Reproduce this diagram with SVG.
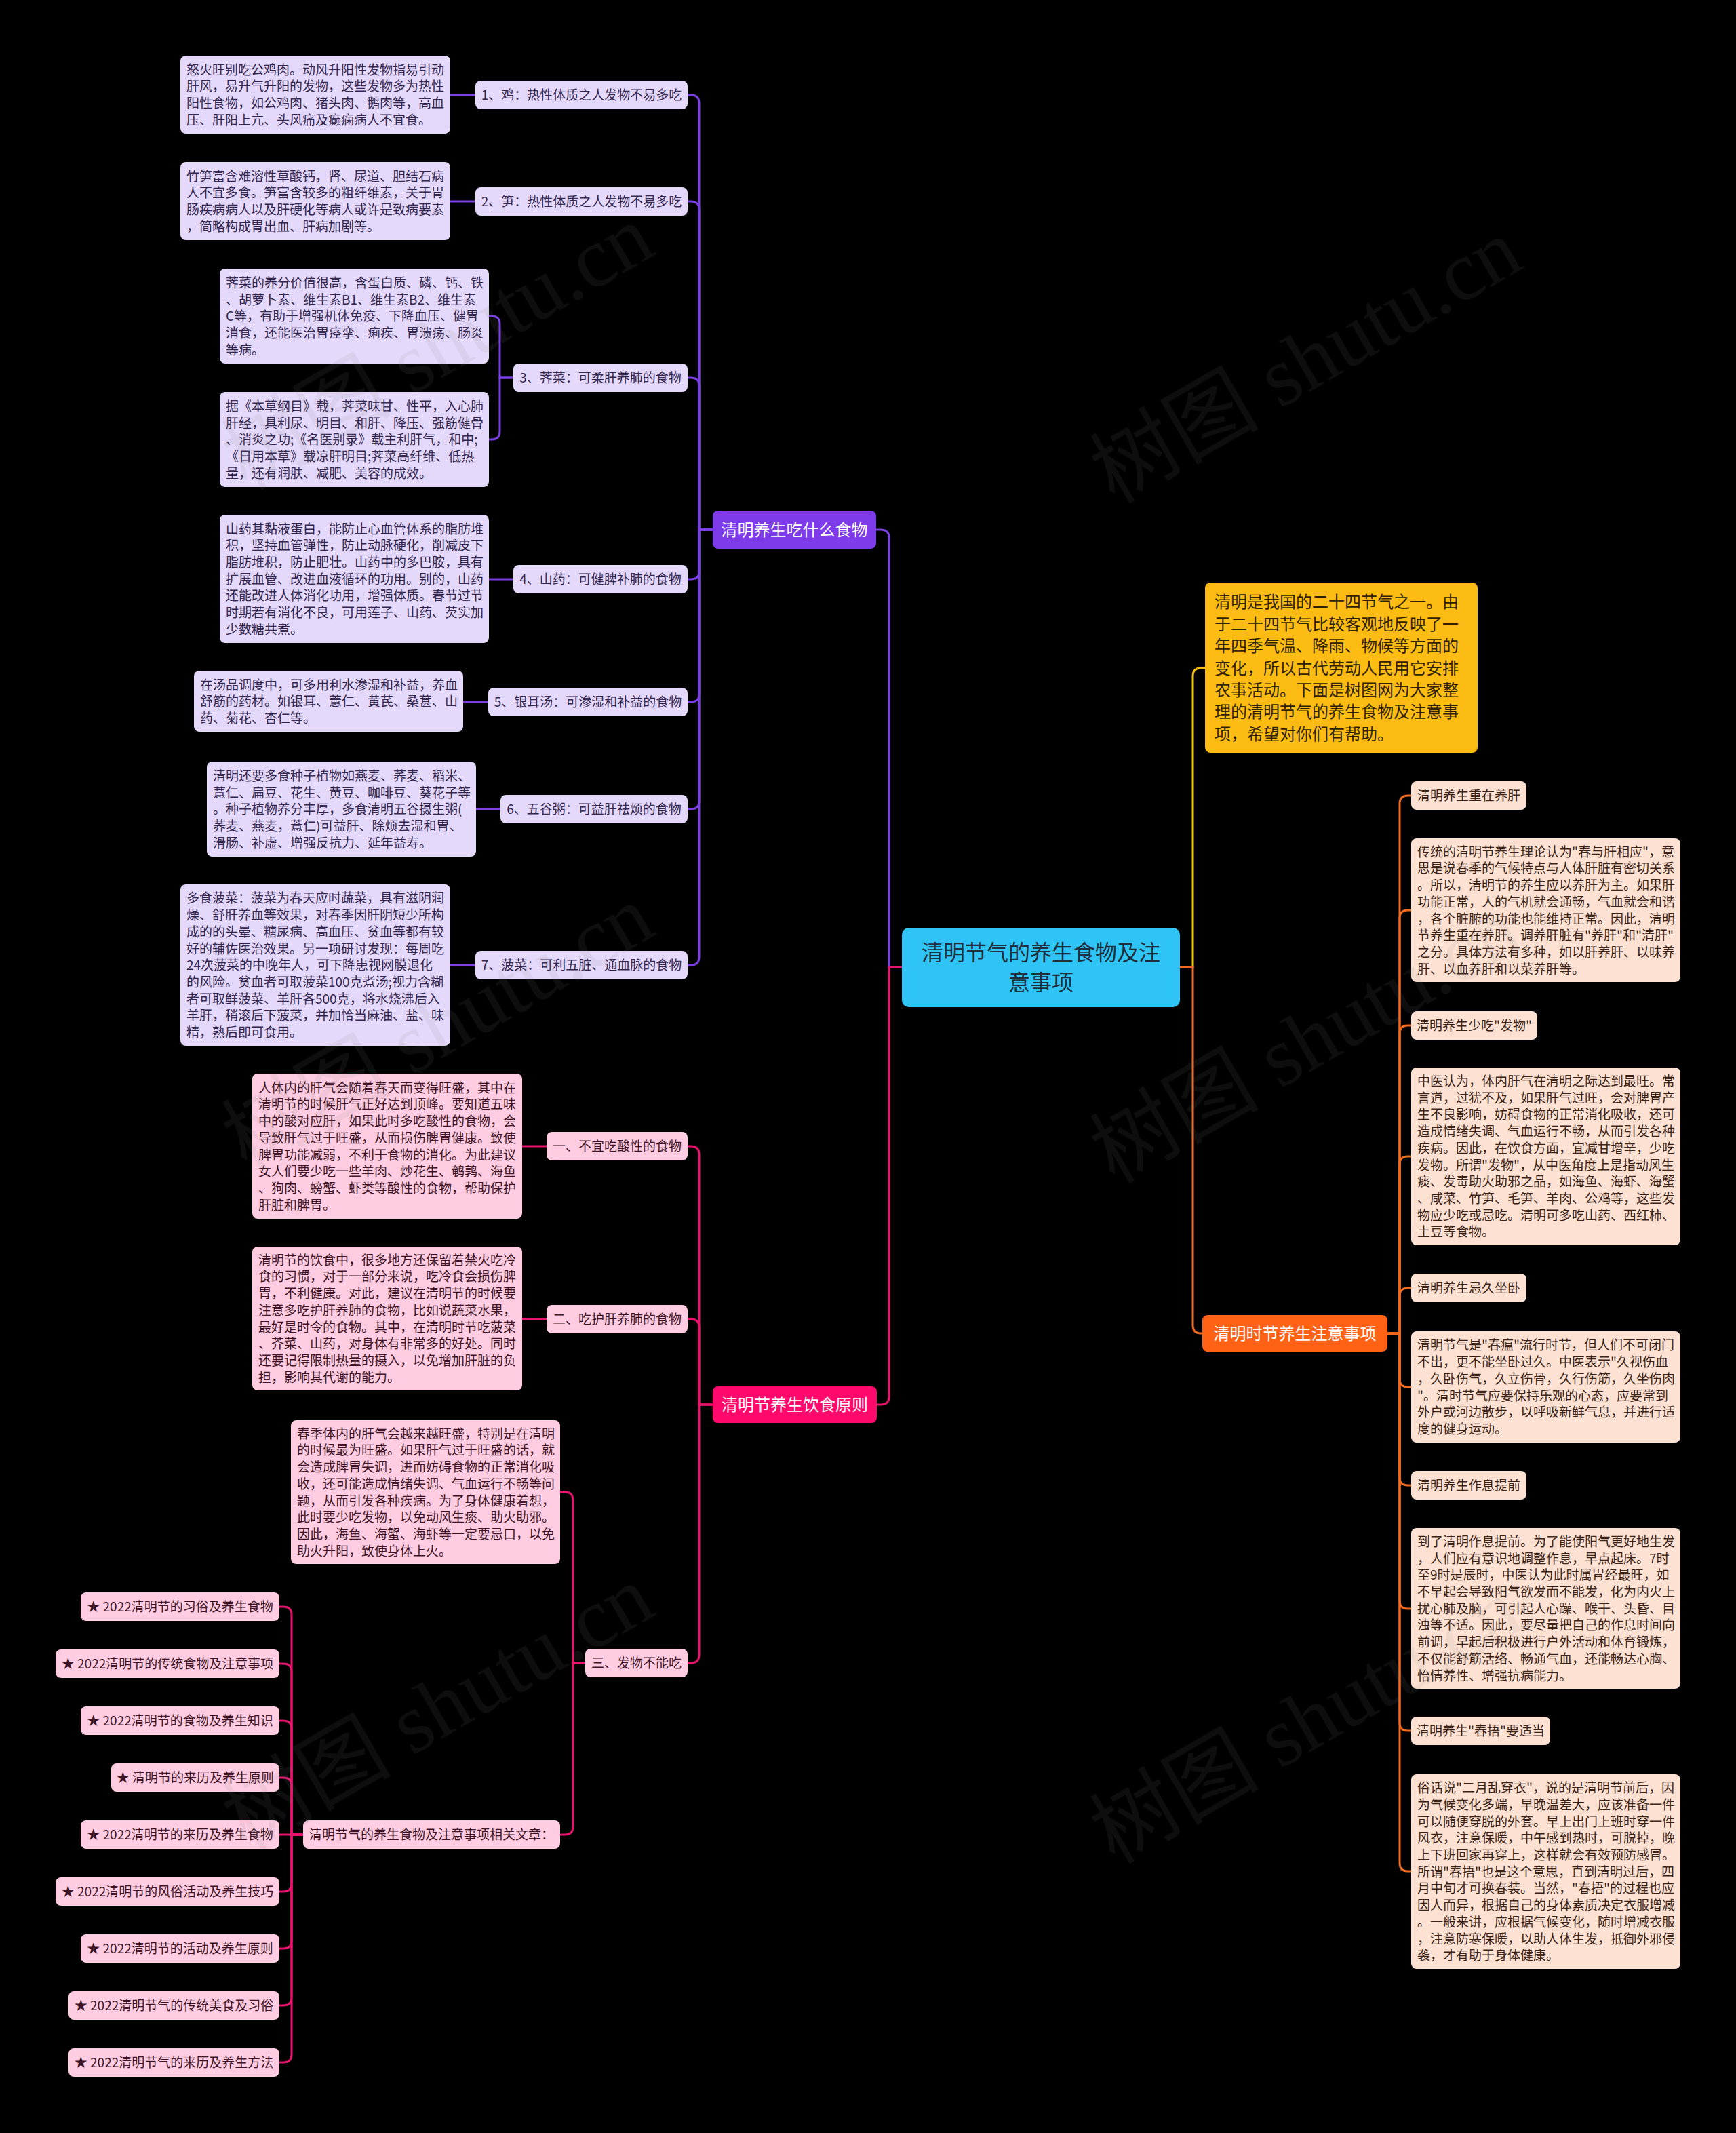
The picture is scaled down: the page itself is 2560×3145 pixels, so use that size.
<svg xmlns="http://www.w3.org/2000/svg" width="2560" height="3145" viewBox="0 0 2560 3145">
<style>
.bg{fill:#000}
.t{font-family:"Noto Sans CJK SC","Noto Sans",sans-serif;font-size:19px}
.m{text-anchor:middle}
.lp{fill:#E4D9FA}
.lk{fill:#FFCCE1}
.lo{fill:#FDE2D3}
.tp{fill:#33264f}
.tk{fill:#3d1426}
.to{fill:#3b2216}
.cp{fill:none;stroke:#7B3FE4;stroke-width:3}
.ck{fill:none;stroke:#E8136C;stroke-width:3}
.co{fill:none;stroke:#F26A1E;stroke-width:3}
.cy{fill:none;stroke:#F6BE12;stroke-width:3}
.big{font-family:"Noto Sans CJK SC","Noto Sans",sans-serif;font-size:24px}
.wm{font-family:"Liberation Serif","Noto Sans CJK SC",serif;font-size:125px;fill:#888;opacity:0.1;text-anchor:middle}
</style>
<rect class="bg" x="0" y="0" width="2560" height="3145"/>

<g id="connectors">
<path class="cp" d="M1330 1426 H1311 V793 Q1311 781 1299 781 H1292"/>
<path class="ck" d="M1330 1426 H1311 V2059 Q1311 2071 1299 2071 H1293"/>
<path class="cy" d="M1740 1426 H1759 V997 Q1759 985 1771 985 H1777"/>
<path class="co" d="M1740 1426 H1759 V1954 Q1759 1966 1771 1966 H1773"/>
<path class="cp" d="M1051 781 H1031 V152 Q1031 140 1019 140 H1014"/>
<path class="cp" d="M1051 781 H1031 V309 Q1031 297 1019 297 H1014"/>
<path class="cp" d="M1051 781 H1031 V569 Q1031 557 1019 557 H1014"/>
<path class="cp" d="M1051 781 H1031 V842 Q1031 854 1019 854 H1014"/>
<path class="cp" d="M1051 781 H1031 V1023 Q1031 1035 1019 1035 H1014"/>
<path class="cp" d="M1051 781 H1031 V1181 Q1031 1193 1019 1193 H1014"/>
<path class="cp" d="M1051 781 H1031 V1411 Q1031 1423 1019 1423 H1014"/>
<path class="cp" d="M701 140 H664"/>
<path class="cp" d="M701 297 H664"/>
<path class="cp" d="M757 557 H737 V478 Q737 466 725 466 H721"/>
<path class="cp" d="M757 557 H737 V636 Q737 648 725 648 H721"/>
<path class="cp" d="M757 854 H721"/>
<path class="cp" d="M720 1035 H683"/>
<path class="cp" d="M738 1193 H702"/>
<path class="cp" d="M701 1423 H664"/>
<path class="ck" d="M1051 2071 H1031 V1702 Q1031 1690 1019 1690 H1014"/>
<path class="ck" d="M1051 2071 H1031 V1957 Q1031 1945 1019 1945 H1014"/>
<path class="ck" d="M1051 2071 H1031 V2440 Q1031 2452 1019 2452 H1014"/>
<path class="ck" d="M806 1690 H770"/>
<path class="ck" d="M806 1945 H770"/>
<path class="ck" d="M863 2452 H845 V2212 Q845 2200 833 2200 H826"/>
<path class="ck" d="M863 2452 H845 V2693 Q845 2705 833 2705 H826"/>
<path class="ck" d="M447 2705 H430 V2381 Q430 2369 418 2369 H412"/>
<path class="ck" d="M447 2705 H430 V2465 Q430 2453 418 2453 H412"/>
<path class="ck" d="M447 2705 H430 V2549 Q430 2537 418 2537 H412"/>
<path class="ck" d="M447 2705 H430 V2633 Q430 2621 418 2621 H412"/>
<path class="ck" d="M447 2705 H412"/>
<path class="ck" d="M447 2705 H430 V2777 Q430 2789 418 2789 H412"/>
<path class="ck" d="M447 2705 H430 V2861 Q430 2873 418 2873 H412"/>
<path class="ck" d="M447 2705 H430 V2945 Q430 2957 418 2957 H412"/>
<path class="ck" d="M447 2705 H430 V3029 Q430 3041 418 3041 H412"/>
<path class="co" d="M2046 1966 H2064 V1185 Q2064 1173 2076 1173 H2081"/>
<path class="co" d="M2046 1966 H2064 V1354 Q2064 1342 2076 1342 H2081"/>
<path class="co" d="M2046 1966 H2064 V1524 Q2064 1512 2076 1512 H2081"/>
<path class="co" d="M2046 1966 H2064 V1717 Q2064 1705 2076 1705 H2081"/>
<path class="co" d="M2046 1966 H2064 V1911 Q2064 1899 2076 1899 H2081"/>
<path class="co" d="M2046 1966 H2064 V2033 Q2064 2045 2076 2045 H2081"/>
<path class="co" d="M2046 1966 H2064 V2178 Q2064 2190 2076 2190 H2081"/>
<path class="co" d="M2046 1966 H2064 V2360 Q2064 2372 2076 2372 H2081"/>
<path class="co" d="M2046 1966 H2064 V2540 Q2064 2552 2076 2552 H2081"/>
<path class="co" d="M2046 1966 H2064 V2747 Q2064 2759 2076 2759 H2081"/>
</g>

<g id="center">
<rect x="1330" y="1368" width="410" height="117" rx="10" fill="#2EC5F6"/>
<text class="big m" x="1535" y="1416" style="font-size:32px" fill="#1f2f3d">清明节气的养生食物及注</text>
<text class="big m" x="1535" y="1460" style="font-size:32px" fill="#1f2f3d">意事项</text>
</g>

<g id="intro">
<rect x="1777" y="859" width="402" height="251" rx="8" fill="#FDBC14"/>
<text class="big" fill="#2e2200" x="1791" y="896.4"><tspan x="1791" dy="0">清明是我国的二十四节气之一。由</tspan><tspan x="1791" dy="32.4">于二十四节气比较客观地反映了一</tspan><tspan x="1791" dy="32.4">年四季气温、降雨、物候等方面的</tspan><tspan x="1791" dy="32.4">变化，所以古代劳动人民用它安排</tspan><tspan x="1791" dy="32.4">农事活动。下面是树图网为大家整</tspan><tspan x="1791" dy="32.4">理的清明节气的养生食物及注意事</tspan><tspan x="1791" dy="32.4">项，希望对你们有帮助。</tspan></text>
</g>

<g id="branch-food">
<rect x="1051" y="753" width="241" height="56" rx="8" fill="#7D3BEA"/>
<text class="big m" x="1171.5" y="790" fill="#fff">清明养生吃什么食物</text>
</g>

<g id="food-1">
<rect class="lp" x="701" y="119" width="313" height="42" rx="8"/>
<text class="t tp m" x="857.5" y="147">1、鸡：热性体质之人发物不易多吃</text>
</g>
<g id="food-1-note">
<rect class="lp" x="266" y="82" width="398" height="115" rx="8"/>
<text class="t tp" x="275" y="109.6"><tspan x="275" dy="0">怒火旺别吃公鸡肉。动风升阳性发物指易引动</tspan><tspan x="275" dy="24.7">肝风，易升气升阳的发物，这些发物多为热性</tspan><tspan x="275" dy="24.7">阳性食物，如公鸡肉、猪头肉、鹅肉等，高血</tspan><tspan x="275" dy="24.7">压、肝阳上亢、头风痛及癫痫病人不宜食。</tspan></text>
</g>

<g id="food-2">
<rect class="lp" x="701" y="276" width="313" height="42" rx="8"/>
<text class="t tp m" x="857.5" y="304">2、笋：热性体质之人发物不易多吃</text>
</g>
<g id="food-2-note">
<rect class="lp" x="266" y="239" width="398" height="115" rx="8"/>
<text class="t tp" x="275" y="266.6"><tspan x="275" dy="0">竹笋富含难溶性草酸钙，肾、尿道、胆结石病</tspan><tspan x="275" dy="24.7">人不宜多食。笋富含较多的粗纤维素，关于胃</tspan><tspan x="275" dy="24.7">肠疾病病人以及肝硬化等病人或许是致病要素</tspan><tspan x="275" dy="24.7">，简略构成胃出血、肝病加剧等。</tspan></text>
</g>

<g id="food-3">
<rect class="lp" x="757" y="536" width="257" height="42" rx="8"/>
<text class="t tp m" x="885.5" y="564">3、荠菜：可柔肝养肺的食物</text>
</g>
<g id="food-3-note-a">
<rect class="lp" x="324" y="396" width="397" height="140" rx="8"/>
<text class="t tp" x="333" y="423.8"><tspan x="333" dy="0">荠菜的养分价值很高，含蛋白质、磷、钙、铁</tspan><tspan x="333" dy="24.7">、胡萝卜素、维生素B1、维生素B2、维生素</tspan><tspan x="333" dy="24.7">C等，有助于增强机体免疫、下降血压、健胃</tspan><tspan x="333" dy="24.7">消食，还能医治胃痉挛、痢疾、胃溃疡、肠炎</tspan><tspan x="333" dy="24.7">等病。</tspan></text>
</g>
<g id="food-3-note-b">
<rect class="lp" x="324" y="578" width="397" height="140" rx="8"/>
<text class="t tp" x="333" y="605.8"><tspan x="333" dy="0">据《本草纲目》载，荠菜味甘、性平，入心肺</tspan><tspan x="333" dy="24.7">肝经，具利尿、明目、和肝、降压、强筋健骨</tspan><tspan x="333" dy="24.7">、消炎之功;《名医别录》载主利肝气，和中;</tspan><tspan x="333" dy="24.7">《日用本草》载凉肝明目;荠菜高纤维、低热</tspan><tspan x="333" dy="24.7">量，还有润肤、减肥、美容的成效。</tspan></text>
</g>

<g id="food-4">
<rect class="lp" x="757" y="833" width="257" height="42" rx="8"/>
<text class="t tp m" x="885.5" y="861">4、山药：可健脾补肺的食物</text>
</g>
<g id="food-4-note">
<rect class="lp" x="324" y="759" width="397" height="189" rx="8"/>
<text class="t tp" x="333" y="786.6"><tspan x="333" dy="0">山药其黏液蛋白，能防止心血管体系的脂肪堆</tspan><tspan x="333" dy="24.7">积，坚持血管弹性，防止动脉硬化，削减皮下</tspan><tspan x="333" dy="24.7">脂肪堆积，防止肥壮。山药中的多巴胺，具有</tspan><tspan x="333" dy="24.7">扩展血管、改进血液循环的功用。别的，山药</tspan><tspan x="333" dy="24.7">还能改进人体消化功用，增强体质。春节过节</tspan><tspan x="333" dy="24.7">时期若有消化不良，可用莲子、山药、芡实加</tspan><tspan x="333" dy="24.7">少数糖共煮。</tspan></text>
</g>

<g id="food-5">
<rect class="lp" x="720" y="1014" width="294" height="42" rx="8"/>
<text class="t tp m" x="867" y="1042">5、银耳汤：可渗湿和补益的食物</text>
</g>
<g id="food-5-note">
<rect class="lp" x="286" y="989" width="397" height="90" rx="8"/>
<text class="t tp" x="295" y="1016.5"><tspan x="295" dy="0">在汤品调度中，可多用利水渗湿和补益，养血</tspan><tspan x="295" dy="24.7">舒筋的药材。如银耳、薏仁、黄芪、桑葚、山</tspan><tspan x="295" dy="24.7">药、菊花、杏仁等。</tspan></text>
</g>

<g id="food-6">
<rect class="lp" x="738" y="1172" width="276" height="42" rx="8"/>
<text class="t tp m" x="876" y="1200">6、五谷粥：可益肝祛烦的食物</text>
</g>
<g id="food-6-note">
<rect class="lp" x="305" y="1123" width="397" height="140" rx="8"/>
<text class="t tp" x="314" y="1150.8"><tspan x="314" dy="0">清明还要多食种子植物如燕麦、荞麦、稻米、</tspan><tspan x="314" dy="24.7">薏仁、扁豆、花生、黄豆、咖啡豆、葵花子等</tspan><tspan x="314" dy="24.7">。种子植物养分丰厚，多食清明五谷摄生粥(</tspan><tspan x="314" dy="24.7">荞麦、燕麦，薏仁)可益肝、除烦去湿和胃、</tspan><tspan x="314" dy="24.7">滑肠、补虚、增强反抗力、延年益寿。</tspan></text>
</g>

<g id="food-7">
<rect class="lp" x="701" y="1402" width="313" height="42" rx="8"/>
<text class="t tp m" x="857.5" y="1430">7、菠菜：可利五脏、通血脉的食物</text>
</g>
<g id="food-7-note">
<rect class="lp" x="266" y="1304" width="398" height="238" rx="8"/>
<text class="t tp" x="275" y="1331.4"><tspan x="275" dy="0">多食菠菜：菠菜为春天应时蔬菜，具有滋阴润</tspan><tspan x="275" dy="24.7">燥、舒肝养血等效果，对春季因肝阴短少所构</tspan><tspan x="275" dy="24.7">成的的头晕、糖尿病、高血压、贫血等都有较</tspan><tspan x="275" dy="24.7">好的辅佐医治效果。另一项研讨发现：每周吃</tspan><tspan x="275" dy="24.7">24次菠菜的中晚年人，可下降患视网膜退化</tspan><tspan x="275" dy="24.7">的风险。贫血者可取菠菜100克煮汤;视力含糊</tspan><tspan x="275" dy="24.7">者可取鲜菠菜、羊肝各500克，将水烧沸后入</tspan><tspan x="275" dy="24.7">羊肝，稍滚后下菠菜，并加恰当麻油、盐、味</tspan><tspan x="275" dy="24.7">精，熟后即可食用。</tspan></text>
</g>

<g id="branch-diet">
<rect x="1051" y="2044" width="242" height="54" rx="8" fill="#FF0A6C"/>
<text class="big m" x="1172" y="2080" fill="#fff">清明节养生饮食原则</text>
</g>

<g id="diet-1">
<rect class="lk" x="806" y="1669" width="208" height="42" rx="8"/>
<text class="t tk m" x="910" y="1697">一、不宜吃酸性的食物</text>
</g>
<g id="diet-1-note">
<rect class="lk" x="372" y="1583" width="398" height="214" rx="8"/>
<text class="t tk" x="381" y="1610.7"><tspan x="381" dy="0">人体内的肝气会随着春天而变得旺盛，其中在</tspan><tspan x="381" dy="24.7">清明节的时候肝气正好达到顶峰。要知道五味</tspan><tspan x="381" dy="24.7">中的酸对应肝，如果此时多吃酸性的食物，会</tspan><tspan x="381" dy="24.7">导致肝气过于旺盛，从而损伤脾胃健康。致使</tspan><tspan x="381" dy="24.7">脾胃功能减弱，不利于食物的消化。为此建议</tspan><tspan x="381" dy="24.7">女人们要少吃一些羊肉、炒花生、鹌鹑、海鱼</tspan><tspan x="381" dy="24.7">、狗肉、螃蟹、虾类等酸性的食物，帮助保护</tspan><tspan x="381" dy="24.7">肝脏和脾胃。</tspan></text>
</g>

<g id="diet-2">
<rect class="lk" x="806" y="1924" width="208" height="42" rx="8"/>
<text class="t tk m" x="910" y="1952">二、吃护肝养肺的食物</text>
</g>
<g id="diet-2-note">
<rect class="lk" x="372" y="1838" width="398" height="212" rx="8"/>
<text class="t tk" x="381" y="1864.7"><tspan x="381" dy="0">清明节的饮食中，很多地方还保留着禁火吃冷</tspan><tspan x="381" dy="24.7">食的习惯，对于一部分来说，吃冷食会损伤脾</tspan><tspan x="381" dy="24.7">胃，不利健康。对此，建议在清明节的时候要</tspan><tspan x="381" dy="24.7">注意多吃护肝养肺的食物，比如说蔬菜水果，</tspan><tspan x="381" dy="24.7">最好是时令的食物。其中，在清明时节吃菠菜</tspan><tspan x="381" dy="24.7">、芥菜、山药，对身体有非常多的好处。同时</tspan><tspan x="381" dy="24.7">还要记得限制热量的摄入，以免增加肝脏的负</tspan><tspan x="381" dy="24.7">担，影响其代谢的能力。</tspan></text>
</g>

<g id="diet-3">
<rect class="lk" x="863" y="2431" width="151" height="42" rx="8"/>
<text class="t tk m" x="938.5" y="2459">三、发物不能吃</text>
</g>
<g id="diet-3-note">
<rect class="lk" x="429" y="2094" width="397" height="212" rx="8"/>
<text class="t tk" x="438" y="2120.7"><tspan x="438" dy="0">春季体内的肝气会越来越旺盛，特别是在清明</tspan><tspan x="438" dy="24.7">的时候最为旺盛。如果肝气过于旺盛的话，就</tspan><tspan x="438" dy="24.7">会造成脾胃失调，进而妨碍食物的正常消化吸</tspan><tspan x="438" dy="24.7">收，还可能造成情绪失调、气血运行不畅等问</tspan><tspan x="438" dy="24.7">题，从而引发各种疾病。为了身体健康着想，</tspan><tspan x="438" dy="24.7">此时要少吃发物，以免动风生痰、助火助邪。</tspan><tspan x="438" dy="24.7">因此，海鱼、海蟹、海虾等一定要忌口，以免</tspan><tspan x="438" dy="24.7">助火升阳，致使身体上火。</tspan></text>
</g>
<g id="diet-3-related">
<rect class="lk" x="447" y="2684" width="379" height="42" rx="8"/>
<text class="t tk m" x="636.5" y="2712">清明节气的养生食物及注意事项相关文章：</text>
</g>

<g id="link-1"><rect class="lk" x="119" y="2348" width="293" height="42" rx="8"/><text class="t tk m" x="265.5" y="2376">★ 2022清明节的习俗及养生食物</text></g>
<g id="link-2"><rect class="lk" x="82" y="2432" width="330" height="42" rx="8"/><text class="t tk m" x="247" y="2460">★ 2022清明节的传统食物及注意事项</text></g>
<g id="link-3"><rect class="lk" x="119" y="2516" width="293" height="42" rx="8"/><text class="t tk m" x="265.5" y="2544">★ 2022清明节的食物及养生知识</text></g>
<g id="link-4"><rect class="lk" x="164" y="2600" width="248" height="42" rx="8"/><text class="t tk m" x="288" y="2628">★ 清明节的来历及养生原则</text></g>
<g id="link-5"><rect class="lk" x="119" y="2684" width="293" height="42" rx="8"/><text class="t tk m" x="265.5" y="2712">★ 2022清明节的来历及养生食物</text></g>
<g id="link-6"><rect class="lk" x="82" y="2768" width="330" height="42" rx="8"/><text class="t tk m" x="247" y="2796">★ 2022清明节的风俗活动及养生技巧</text></g>
<g id="link-7"><rect class="lk" x="119" y="2852" width="293" height="42" rx="8"/><text class="t tk m" x="265.5" y="2880">★ 2022清明节的活动及养生原则</text></g>
<g id="link-8"><rect class="lk" x="101" y="2936" width="311" height="42" rx="8"/><text class="t tk m" x="256.5" y="2964">★ 2022清明节气的传统美食及习俗</text></g>
<g id="link-9"><rect class="lk" x="101" y="3020" width="311" height="42" rx="8"/><text class="t tk m" x="256.5" y="3048">★ 2022清明节气的来历及养生方法</text></g>

<g id="branch-notes">
<rect x="1773" y="1939" width="273" height="54" rx="8" fill="#FF6115"/>
<text class="big m" x="1909.5" y="1975" fill="#fff">清明时节养生注意事项</text>
</g>

<g id="note-1"><rect class="lo" x="2081" y="1152" width="170" height="42" rx="8"/><text class="t to m" x="2166" y="1180">清明养生重在养肝</text></g>
<g id="note-1-text">
<rect class="lo" x="2081" y="1236" width="397" height="212" rx="8"/>
<text class="t to" x="2090" y="1262.7"><tspan x="2090" dy="0">传统的清明节养生理论认为"春与肝相应"，意</tspan><tspan x="2090" dy="24.7">思是说春季的气候特点与人体肝脏有密切关系</tspan><tspan x="2090" dy="24.7">。所以，清明节的养生应以养肝为主。如果肝</tspan><tspan x="2090" dy="24.7">功能正常，人的气机就会通畅，气血就会和谐</tspan><tspan x="2090" dy="24.7">，各个脏腑的功能也能维持正常。因此，清明</tspan><tspan x="2090" dy="24.7">节养生重在养肝。调养肝脏有"养肝"和"清肝"</tspan><tspan x="2090" dy="24.7">之分。具体方法有多种，如以肝养肝、以味养</tspan><tspan x="2090" dy="24.7">肝、以血养肝和以菜养肝等。</tspan></text>
</g>
<g id="note-2"><rect class="lo" x="2081" y="1491" width="186" height="42" rx="8"/><text class="t to m" x="2174" y="1519">清明养生少吃"发物"</text></g>
<g id="note-2-text">
<rect class="lo" x="2081" y="1574" width="397" height="262" rx="8"/>
<text class="t to" x="2090" y="1601"><tspan x="2090" dy="0">中医认为，体内肝气在清明之际达到最旺。常</tspan><tspan x="2090" dy="24.7">言道，过犹不及，如果肝气过旺，会对脾胃产</tspan><tspan x="2090" dy="24.7">生不良影响，妨碍食物的正常消化吸收，还可</tspan><tspan x="2090" dy="24.7">造成情绪失调、气血运行不畅，从而引发各种</tspan><tspan x="2090" dy="24.7">疾病。因此，在饮食方面，宜减甘增辛，少吃</tspan><tspan x="2090" dy="24.7">发物。所谓"发物"，从中医角度上是指动风生</tspan><tspan x="2090" dy="24.7">痰、发毒助火助邪之品，如海鱼、海虾、海蟹</tspan><tspan x="2090" dy="24.7">、咸菜、竹笋、毛笋、羊肉、公鸡等，这些发</tspan><tspan x="2090" dy="24.7">物应少吃或忌吃。清明可多吃山药、西红柿、</tspan><tspan x="2090" dy="24.7">土豆等食物。</tspan></text>
</g>
<g id="note-3"><rect class="lo" x="2081" y="1878" width="170" height="42" rx="8"/><text class="t to m" x="2166" y="1906">清明养生忌久坐卧</text></g>
<g id="note-3-text">
<rect class="lo" x="2081" y="1963" width="397" height="164" rx="8"/>
<text class="t to" x="2090" y="1990.4"><tspan x="2090" dy="0">清明节气是"春瘟"流行时节，但人们不可闭门</tspan><tspan x="2090" dy="24.7">不出，更不能坐卧过久。中医表示"久视伤血</tspan><tspan x="2090" dy="24.7">，久卧伤气，久立伤骨，久行伤筋，久坐伤肉</tspan><tspan x="2090" dy="24.7">"。清时节气应要保持乐观的心态，应要常到</tspan><tspan x="2090" dy="24.7">外户或河边散步，以呼吸新鲜气息，并进行适</tspan><tspan x="2090" dy="24.7">度的健身运动。</tspan></text>
</g>
<g id="note-4"><rect class="lo" x="2081" y="2169" width="170" height="42" rx="8"/><text class="t to m" x="2166" y="2197">清明养生作息提前</text></g>
<g id="note-4-text">
<rect class="lo" x="2081" y="2253" width="397" height="237" rx="8"/>
<text class="t to" x="2090" y="2279.9"><tspan x="2090" dy="0">到了清明作息提前。为了能使阳气更好地生发</tspan><tspan x="2090" dy="24.7">，人们应有意识地调整作息，早点起床。7时</tspan><tspan x="2090" dy="24.7">至9时是辰时，中医认为此时属胃经最旺，如</tspan><tspan x="2090" dy="24.7">不早起会导致阳气欲发而不能发，化为内火上</tspan><tspan x="2090" dy="24.7">扰心肺及脑，可引起人心躁、喉干、头昏、目</tspan><tspan x="2090" dy="24.7">浊等不适。因此，要尽量把自己的作息时间向</tspan><tspan x="2090" dy="24.7">前调，早起后积极进行户外活动和体育锻炼，</tspan><tspan x="2090" dy="24.7">不仅能舒筋活络、畅通气血，还能畅达心胸、</tspan><tspan x="2090" dy="24.7">怡情养性、增强抗病能力。</tspan></text>
</g>
<g id="note-5"><rect class="lo" x="2081" y="2531" width="205" height="42" rx="8"/><text class="t to m" x="2183.5" y="2559">清明养生"春捂"要适当</text></g>
<g id="note-5-text">
<rect class="lo" x="2081" y="2616" width="397" height="287" rx="8"/>
<text class="t to" x="2090" y="2643.2"><tspan x="2090" dy="0">俗话说"二月乱穿衣"，说的是清明节前后，因</tspan><tspan x="2090" dy="24.7">为气候变化多端，早晚温差大，应该准备一件</tspan><tspan x="2090" dy="24.7">可以随便穿脱的外套。早上出门上班时穿一件</tspan><tspan x="2090" dy="24.7">风衣，注意保暖，中午感到热时，可脱掉，晚</tspan><tspan x="2090" dy="24.7">上下班回家再穿上，这样就会有效预防感冒。</tspan><tspan x="2090" dy="24.7">所谓"春捂"也是这个意思，直到清明过后，四</tspan><tspan x="2090" dy="24.7">月中旬才可换春装。当然，"春捂"的过程也应</tspan><tspan x="2090" dy="24.7">因人而异，根据自己的身体素质决定衣服增减</tspan><tspan x="2090" dy="24.7">。一般来讲，应根据气候变化，随时增减衣服</tspan><tspan x="2090" dy="24.7">，注意防寒保暖，以助人体生发，抵御外邪侵</tspan><tspan x="2090" dy="24.7">袭，才有助于身体健康。</tspan></text>
</g>

<g id="watermarks">
<text class="wm" transform="translate(647 514) rotate(-30)" y="40">树图 shutu.cn</text>
<text class="wm" transform="translate(1927 534) rotate(-30)" y="40">树图 shutu.cn</text>
<text class="wm" transform="translate(647 1517) rotate(-30)" y="40">树图 shutu.cn</text>
<text class="wm" transform="translate(1927 1537) rotate(-30)" y="40">树图 shutu.cn</text>
<text class="wm" transform="translate(647 2520) rotate(-30)" y="40">树图 shutu.cn</text>
<text class="wm" transform="translate(1927 2540) rotate(-30)" y="40">树图 shutu.cn</text>
</g>
</svg>
